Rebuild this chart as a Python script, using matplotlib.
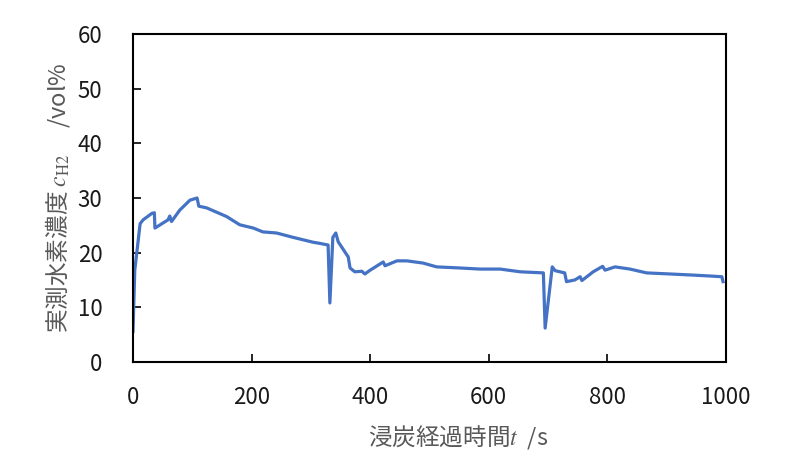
import matplotlib
matplotlib.use('Agg')
from matplotlib import pyplot as plt

plt.rcParams['font.family'] = ['Noto Sans CJK JP', 'DejaVu Sans']
plt.rcParams['mathtext.fontset'] = 'stix'

t_s = [0, 3, 12, 17, 32, 36, 37, 59, 62, 65, 79, 96, 108, 111, 124, 158, 180,
       203, 219, 242, 270, 304, 315, 329, 332, 337, 342, 346, 363, 366, 374,
       386, 391, 400, 422, 425, 445, 462, 489, 512, 551, 585, 619, 653, 692,
       695, 707, 712, 728, 731, 745, 754, 757, 776, 792, 796, 813, 838, 866,
       906, 944, 978, 993, 995]
c_h2 = [5.6, 16.8, 25.3, 26.0, 27.2, 27.3, 24.5, 26.0, 26.7, 25.7, 27.8, 29.6,
        30.0, 28.5, 28.2, 26.6, 25.1, 24.5, 23.8, 23.6, 22.8, 21.9, 21.7, 21.4,
        10.8, 22.8, 23.6, 22.0, 19.2, 17.2, 16.5, 16.6, 16.1, 16.8, 18.3, 17.6,
        18.5, 18.5, 18.1, 17.4, 17.2, 17.0, 17.0, 16.5, 16.3, 6.2, 17.4, 16.7,
        16.3, 14.7, 15.0, 15.6, 14.9, 16.5, 17.5, 16.8, 17.4, 17.0, 16.3, 16.1,
        15.9, 15.7, 15.6, 14.7]

fig = plt.figure(figsize=(7.91, 4.67), dpi=100)
ax = fig.add_axes([133 / 791, 1 - 362 / 467, (726 - 133) / 791, (362 - 34) / 467])

ax.plot(t_s, c_h2, color='#4472C4', lw=2.3)

ax.set_xlim(0, 1000)
ax.set_ylim(0, 60)
ax.set_xticks(range(0, 1001, 200))
ax.set_yticks(range(0, 61, 10))
ax.tick_params(direction='in', length=6, width=1.2, labelsize=16,
               labelcolor='#1a1a1a')
ax.tick_params(axis='x', pad=17)
ax.tick_params(axis='y', pad=22)
for s in ax.spines.values():
    s.set_linewidth(1.5)
    s.set_color('black')

fig.text(458 / 791, 1 - 437 / 467, r'浸炭経過時間$\mathit{t}$  /s', fontsize=17,
         color='#595959', ha='center', va='center')
fig.text(58 / 791, 1 - 198 / 467,
         r'実測水素濃度 $\mathit{c}_{\mathrm{H2}}$     /vol%', fontsize=17,
         color='#595959', ha='center', va='center', rotation=90)

fig.savefig('out.png', dpi=100)
